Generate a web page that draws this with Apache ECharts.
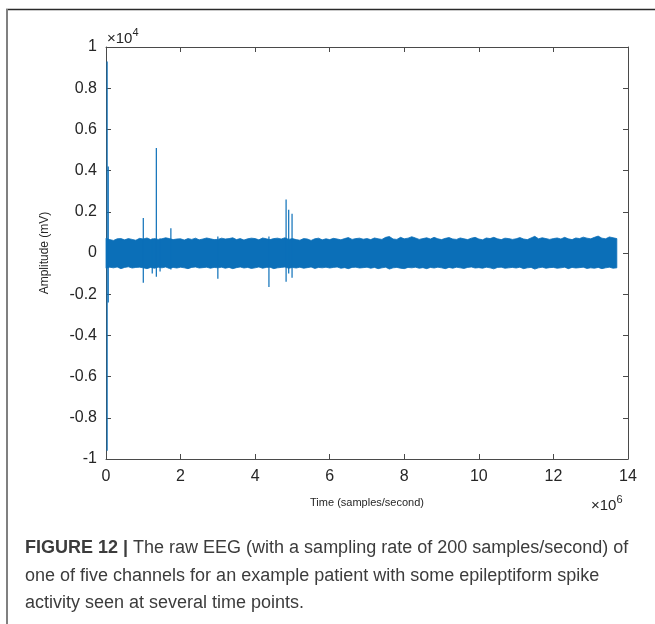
<!DOCTYPE html>
<html>
<head>
<meta charset="utf-8">
<script src="https://cdn.jsdelivr.net/npm/echarts@6/dist/echarts.min.js"></script>
<style>
  html, body { margin: 0; padding: 0; background: #fff; }
  #chart { width: 655px; height: 624px; }
</style>
</head>
<body>
<div id="chart"></div>
<script>
// EEG channel: min/max envelope per block of 100,000 samples (amplitude in mV)
const blockSize = 100000;
const envelopeUpper = [
  720, 650, 610, 690, 700, 640, 700, 660, 620, 710,
  680, 730, 650, 700, 660, 690, 740, 700, 650, 680,
  690, 630, 700, 660, 720, 640, 680, 730, 690, 650,
  660, 720, 680, 700, 740, 650, 700, 630, 690, 720,
  700, 640, 730, 690, 650, 700, 720, 680, 740, 660,
  700, 650, 620, 700, 680, 610, 690, 720, 640, 690,
  650, 710, 680, 640, 700, 750, 660, 700, 720, 670,
  700, 650, 730, 690, 660, 760, 800, 680, 660, 760,
  690, 720, 790, 730, 660, 700, 740, 680, 760, 690,
  650, 710, 750, 680, 660, 730, 690, 650, 720, 760,
  680, 640, 730, 700, 760, 690, 650, 720, 700, 660,
  690, 750, 680, 650, 730, 810, 690, 740, 700, 660,
  700, 730, 680, 760, 690, 650, 730, 700, 770, 720,
  690, 760, 820, 720, 690, 780, 740, 700
];
const envelopeLower = [
  -740, -690, -720, -680, -760, -700, -670, -730, -700, -690,
  -720, -760, -700, -740, -690, -720, -680, -750, -700, -730,
  -690, -720, -760, -700, -680, -730, -710, -690, -740, -700,
  -720, -690, -740, -700, -760, -710, -680, -730, -700, -750,
  -720, -680, -740, -700, -690, -760, -720, -700, -680, -740,
  -700, -730, -690, -740, -710, -680, -750, -700, -720, -690,
  -730, -700, -680, -740, -710, -760, -700, -690, -730, -710,
  -690, -740, -700, -760, -720, -690, -780, -720, -700, -740,
  -760, -700, -720, -690, -740, -710, -760, -700, -730, -690,
  -720, -760, -700, -740, -690, -720, -750, -700, -680, -730,
  -710, -740, -690, -720, -770, -700, -690, -740, -720, -700,
  -730, -690, -760, -720, -700, -780, -720, -690, -740, -710,
  -700, -740, -720, -690, -760, -700, -730, -710, -690, -750,
  -720, -740, -700, -760, -720, -690, -740, -720
];

// Isolated spikes: sample index, peak and trough (mV)
const spikeTime = [30000, 60000, 1000000, 1240000, 1350000, 1450000, 1740000, 3000000, 4370000, 4830000, 4900000, 4990000];
const spikeHigh = [9300, 4200, 1700, 700, 5100, 700, 1200, 800, 800, 2600, 2100, 1900];
const spikeLow  = [-9600, -2400, -1450, -1000, -1150, -900, -800, -1250, -1650, -1400, -1000, -1200];

// Axis ticks
const xTicks = [0, 2, 4, 6, 8, 10, 12, 14];          // ×10^6 samples
const yTicks = [-1, -0.8, -0.6, -0.4, -0.2, 0, 0.2, 0.4, 0.6, 0.8, 1]; // ×10^4 mV
const xScale = 1e6;
const yScale = 1e4;

const BLUE = '#0b6fb8';
const AXIS = '#4a4a4a';
const TEXT = '#262626';
const CAPTION = '#3c3c3c';
const FONT = '"Liberation Sans", Arial, Helvetica, sans-serif';

const bandData = envelopeUpper.map((u, i) => [i * blockSize, u, envelopeLower[i]]);
const spikeData = spikeTime.map((t, i) => [t, spikeHigh[i], spikeLow[i]]);

const chart = echarts.init(document.getElementById('chart'), null, { renderer: 'canvas' });

const xMin = xTicks[0] * xScale, xMax = xTicks[xTicks.length - 1] * xScale;
const xStep = (xTicks[1] - xTicks[0]) * xScale;
const yMin = yTicks[0] * yScale, yMax = yTicks[yTicks.length - 1] * yScale;
const yStep = Math.round((yTicks[1] - yTicks[0]) * yScale);

function fmt(v, s) {
  const r = Math.round(v / s * 100) / 100;
  return String(r);
}

function axisBase() {
  return {
    type: 'value',
    axisLine: { show: true, onZero: false, lineStyle: { color: AXIS, width: 1 } },
    axisTick: { show: true, inside: true, length: 5, lineStyle: { color: AXIS, width: 1 } },
    splitLine: { show: false }
  };
}

chart.setOption({
  animation: false,
  backgroundColor: '#ffffff',
  grid: { left: 106, top: 47, width: 522, height: 412, containLabel: false },
  xAxis: [
    Object.assign(axisBase(), {
      position: 'bottom', min: xMin, max: xMax, interval: xStep,
      axisLabel: { margin: 10, fontSize: 16, color: TEXT, fontFamily: FONT, formatter: v => fmt(v, xScale) },
      name: 'Time (samples/second)', nameLocation: 'middle', nameGap: 38,
      nameTextStyle: { fontSize: 11, color: TEXT, fontFamily: FONT }
    }),
    Object.assign(axisBase(), {
      position: 'top', min: xMin, max: xMax, interval: xStep, axisLabel: { show: false }
    })
  ],
  yAxis: [
    Object.assign(axisBase(), {
      position: 'left', min: yMin, max: yMax, interval: yStep,
      axisLabel: { margin: 9, fontSize: 16, color: TEXT, fontFamily: FONT, formatter: v => fmt(v, yScale) },
      name: 'Amplitude (mV)', nameLocation: 'middle', nameGap: 55, nameRotate: 90,
      nameTextStyle: { fontSize: 12, color: TEXT, fontFamily: FONT }
    }),
    Object.assign(axisBase(), {
      position: 'right', min: yMin, max: yMax, interval: yStep, axisLabel: { show: false }
    })
  ],
  series: [
    {
      type: 'custom',
      name: 'band',
      xAxisIndex: 0, yAxisIndex: 0,
      data: bandData,
      encode: { x: 0, y: [1, 2] },
      renderItem: function (params, api) {
        if (params.dataIndex !== 0) return null;
        const pts = [];
        for (let i = 0; i < bandData.length; i++) pts.push(api.coord([bandData[i][0], bandData[i][1]]));
        for (let i = bandData.length - 1; i >= 0; i--) pts.push(api.coord([bandData[i][0], bandData[i][2]]));
        return {
          type: 'polygon',
          shape: { points: pts },
          style: { fill: BLUE, stroke: BLUE, lineWidth: 0.8 }
        };
      }
    },
    {
      type: 'custom',
      name: 'spikes',
      xAxisIndex: 0, yAxisIndex: 0,
      data: spikeData,
      encode: { x: 0, y: [1, 2] },
      renderItem: function (params, api) {
        const top = api.coord([api.value(0), api.value(1)]);
        const bot = api.coord([api.value(0), api.value(2)]);
        return {
          type: 'line',
          shape: { x1: top[0], y1: top[1], x2: bot[0], y2: bot[1] },
          style: { stroke: BLUE, lineWidth: 1.2 }
        };
      }
    }
  ],
  graphic: [
    // page frame
    { type: 'line', shape: { x1: 6, y1: 9.5, x2: 655, y2: 9.5 }, style: { stroke: '#2a2a2a', lineWidth: 1.5 } },
    { type: 'line', shape: { x1: 7, y1: 9, x2: 7, y2: 624 }, style: { stroke: '#808080', lineWidth: 2 } },
    // axis exponents
    {
      type: 'text', left: 107, top: 27,
      style: {
        text: '{a|×10}{b|4}',
        rich: {
          a: { fontSize: 15, fill: TEXT, fontFamily: FONT, verticalAlign: 'bottom' },
          b: { fontSize: 11, fill: TEXT, fontFamily: FONT, verticalAlign: 'top', padding: [0, 0, 8, 0] }
        }
      }
    },
    {
      type: 'text', left: 591, top: 494,
      style: {
        text: '{a|×10}{b|6}',
        rich: {
          a: { fontSize: 15, fill: TEXT, fontFamily: FONT, verticalAlign: 'bottom' },
          b: { fontSize: 11, fill: TEXT, fontFamily: FONT, verticalAlign: 'top', padding: [0, 0, 8, 0] }
        }
      }
    },
    // figure caption
    {
      type: 'text', left: 25, top: 539,
      style: {
        text: '{b|FIGURE 12 |} The raw EEG (with a sampling rate of 200 samples/second) of',
        fontSize: 18, fill: CAPTION, fontFamily: FONT,
        rich: { b: { fontSize: 18, fontWeight: 'bold', fill: CAPTION, fontFamily: FONT } }
      }
    },
    {
      type: 'text', left: 25, top: 567,
      style: { text: 'one of five channels for an example patient with some epileptiform spike', fontSize: 18, fill: CAPTION, fontFamily: FONT }
    },
    {
      type: 'text', left: 25, top: 594,
      style: { text: 'activity seen at several time points.', fontSize: 18, fill: CAPTION, fontFamily: FONT }
    }
  ]
});
</script>
</body>
</html>
